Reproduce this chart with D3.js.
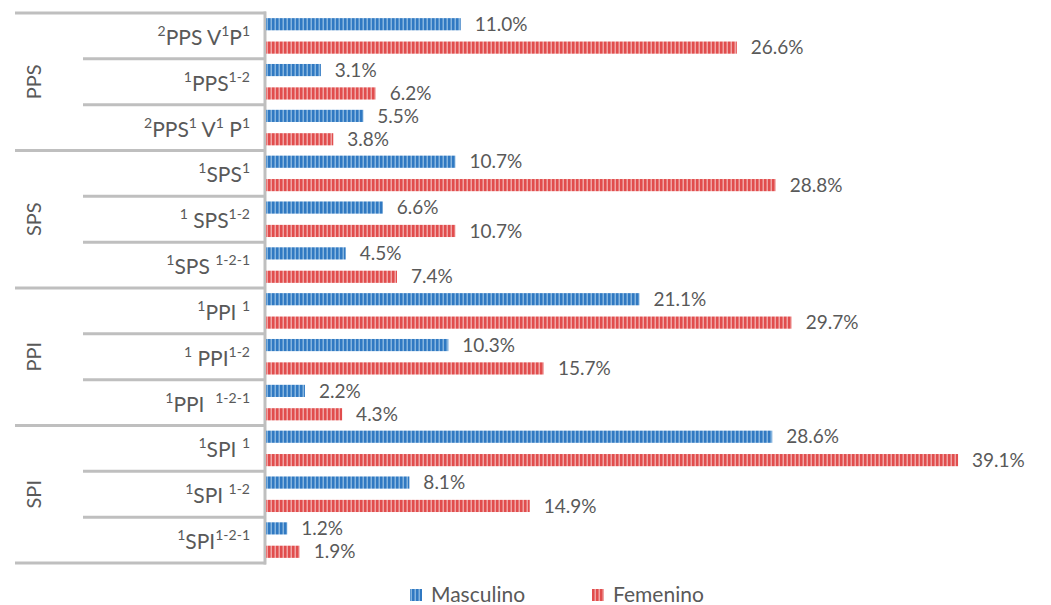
<!DOCTYPE html>
<html>
<head>
<meta charset="utf-8">
<script src="https://d3js.org/d3.v7.min.js"></script>
<style>
  body { margin: 0; background: #fff; }
  svg { display: block; font-family: Lato, "Open Sans", sans-serif; }
</style>
</head>
<body>
<svg width="1051" height="605"></svg>
<script>
// groups and subcategory labels ({..} = superscript)
var groups = ["PPS", "SPS", "PPI", "SPI"];
var labels = [
    "{2}PPS V{1}P{1}", "{1}PPS{1-2}", "{2}PPS{1} V{1} P{1}",
    "{1}SPS{1}", "{1} SPS{1-2}", "{1}SPS {1-2-1}",
    "{1}PPI {1}", "{1} PPI{1-2}", "{1}PPI  {1-2-1}",
    "{1}SPI {1}", "{1}SPI {1-2}", "{1}SPI{1-2-1}"
];
var labelGroup = ["PPS", "PPS", "PPS", "SPS", "SPS", "SPS", "PPI", "PPI", "PPI", "SPI", "SPI", "SPI"];
var masculino = [11.0, 3.1, 5.5, 10.7, 6.6, 4.5, 21.1, 10.3, 2.2, 28.6, 8.1, 1.2];
var femenino = [26.6, 6.2, 3.8, 28.8, 10.7, 7.4, 29.7, 15.7, 4.3, 39.1, 14.9, 1.9];
var seriesNames = ["Masculino", "Femenino"];

var svg = d3.select("svg");
var textColor = "#595959",
    lineColor = "#bfbfbf";

var defs = svg.append("defs");
function stripes(id, dark, light) {
    var p = defs.append("pattern")
        .attr("id", id)
        .attr("patternUnits", "userSpaceOnUse")
        .attr("width", 4).attr("height", 4);
    p.append("rect").attr("width", 4).attr("height", 4).attr("fill", dark);
    p.append("rect").attr("x", 2.5).attr("width", 1.5).attr("height", 4).attr("fill", light);
}
stripes("blueStripe", "#3079c2", "#86b5df");
stripes("redStripe", "#e14d4d", "#f0a5a5");
var fills = ["url(#blueStripe)", "url(#redStripe)"];

var x = d3.scaleLinear()
    .domain([0, 40])
    .range([266, 974]);

var y = d3.scaleBand()
    .domain(d3.range(labels.length))
    .range([13, 563]);

var ySub = d3.scaleBand()
    .domain([0, 1])
    .range([0, y.bandwidth()])
    .paddingInner(0.48)
    .paddingOuter(0.22);

// separator lines
var gLines = svg.append("g")
    .attr("stroke", lineColor)
    .attr("stroke-width", 3);

d3.range(labels.length + 1).forEach(function(i) {
    var yy = i < labels.length ? y(i) : y(labels.length - 1) + y.bandwidth();
    var outer = (i % 3 == 0);
    gLines.append("line")
        .attr("x1", outer ? 15 : 83)
        .attr("x2", 266)
        .attr("y1", yy).attr("y2", yy);
});
gLines.append("line")
    .attr("x1", 265).attr("x2", 265)
    .attr("y1", y(0) - 1.5)
    .attr("y2", y(labels.length - 1) + y.bandwidth() + 1.5);

// group labels
groups.forEach(function(g) {
    var idx = labelGroup.map(function(d, i) { return d == g ? i : -1; })
        .filter(function(i) { return i >= 0; });
    var cy = (y(idx[0]) + y(idx[idx.length - 1]) + y.bandwidth()) / 2;
    svg.append("text")
        .attr("transform", "translate(41," + cy + ") rotate(-90)")
        .attr("text-anchor", "middle")
        .attr("fill", textColor)
        .style("font-size", "20px")
        .text(g);
});

// subcategory labels with superscripts
labels.forEach(function(lab, i) {
    var t = svg.append("text")
        .attr("x", 250)
        .attr("y", y(i) + y.bandwidth() / 2 + 9)
        .attr("text-anchor", "end")
        .attr("fill", textColor)
        .style("font-size", "21px")
        .style("white-space", "pre")
        .attr("xml:space", "preserve");
    var parts = lab.split(/(\{[^}]*\})/).filter(function(s) { return s.length; });
    var prevSup = false;
    parts.forEach(function(s) {
        var sup = s.charAt(0) == "{";
        var ts = t.append("tspan").text(sup ? s.slice(1, -1) : s);
        if (sup) {
            ts.style("font-size", "14px");
            if (!prevSup) ts.attr("dy", -9);
        } else if (prevSup) {
            ts.attr("dy", 9);
        }
        prevSup = sup;
    });
});

// bars
var series = [masculino, femenino];
series.forEach(function(vals, s) {
    var g = svg.append("g");
    g.selectAll("rect")
        .data(vals)
        .enter().append("rect")
        .attr("x", x(0))
        .attr("y", function(d, i) { return y(i) + ySub(s); })
        .attr("width", function(d) { return x(d) - x(0); })
        .attr("height", ySub.bandwidth())
        .attr("fill", fills[s]);
    g.selectAll("text")
        .data(vals)
        .enter().append("text")
        .attr("x", function(d) { return x(d) + 14; })
        .attr("y", function(d, i) { return y(i) + ySub(s) + ySub.bandwidth() / 2; })
        .attr("dy", "0.35em")
        .attr("fill", textColor)
        .style("font-size", "19px")
        .text(function(d) { return d.toFixed(1) + "%"; });
});

// legend
var legendX = [410, 592];
seriesNames.forEach(function(name, s) {
    svg.append("rect")
        .attr("x", legendX[s]).attr("y", 589)
        .attr("width", 12).attr("height", 12)
        .attr("fill", fills[s]);
    svg.append("text")
        .attr("x", legendX[s] + 21).attr("y", 602)
        .attr("fill", textColor)
        .style("font-size", "21px")
        .text(name);
});
</script>
</body>
</html>
